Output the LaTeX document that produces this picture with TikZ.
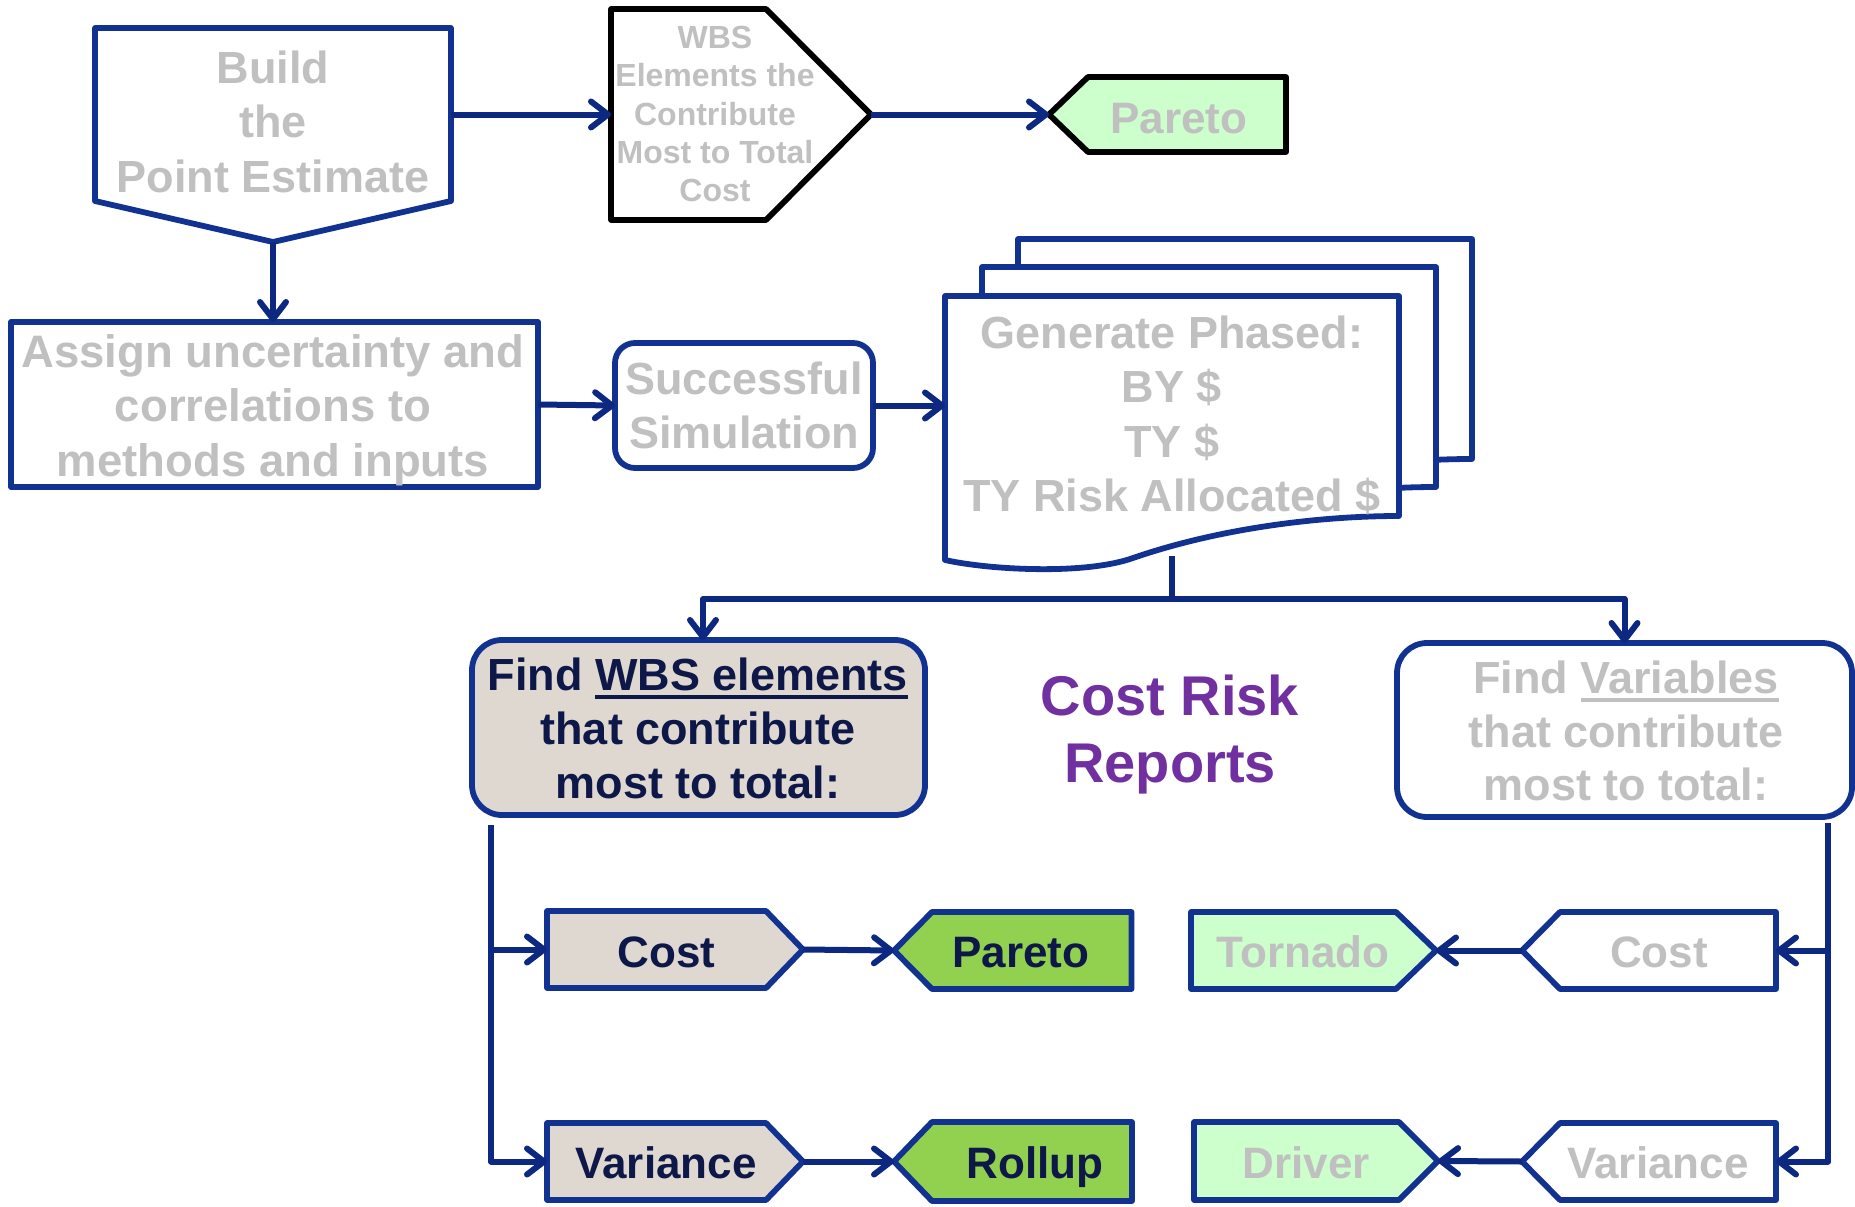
\documentclass[tikz,border=0pt]{standalone}
\usepackage{fontspec}
\setmainfont{Liberation Sans}
\usetikzlibrary{arrows.meta}

\definecolor{navy}{RGB}{18,50,145}
\definecolor{linknavy}{RGB}{12,40,128}
\definecolor{tgray}{RGB}{192,192,192}
\definecolor{tdark}{RGB}{14,24,72}
\definecolor{beige}{RGB}{223,216,209}
\definecolor{leafgreen}{RGB}{146,208,80}
\definecolor{mintgreen}{RGB}{204,255,204}
\definecolor{titlepurple}{RGB}{112,48,160}

% fixed first-line height / last-line depth, so a node's centre sits midway between its outer baselines
\newcommand\topln{\rule{0pt}{0.9em}}
\newcommand\botln{\rule[-0.9em]{0pt}{0.9em}}
\newcommand\ulbar[1]{\leavevmode\setbox0\hbox{#1}\rlap{\rule[-9pt]{\wd0}{4.5pt}}\box0}
\newcommand\fs[2]{\fontsize{#1}{#2}\selectfont}

% outlines drawn on the anchors of an invisible frame node
\newcommand\pointR[3]{\path[#3] (#1.north west) -- ([xshift=-#2]#1.north east) -- (#1.east) -- ([xshift=-#2]#1.south east) -- (#1.south west) -- cycle;}
\newcommand\pointL[3]{\path[#3] (#1.west) -- ([xshift=#2]#1.north west) -- (#1.north east) -- (#1.south east) -- ([xshift=#2]#1.south west) -- cycle;}
\newcommand\pointD[3]{\path[#3] (#1.north west) -- (#1.north east) -- ([yshift=#2]#1.south east) -- (#1.south) -- ([yshift=#2]#1.south west) -- cycle;}
% one sheet of the document stack
\newcommand\docsheet[2]{\path[shp, shift={(#1,#2)}] (945,296) -- (1399,296) -- (1399,516) .. controls (1320,516) and (1220,528) .. (1133,558) .. controls (1085,575) and (990,570) .. (945,560) -- cycle;}

\tikzset{
  frame/.style={inner sep=0pt, outer sep=0pt, draw=none},
  box/.style={draw=navy, line width=5.8pt, fill=white, inner sep=0pt, outer sep=0pt},
  shp/.style={draw=navy, line width=5.8pt, fill=white},
  txt/.style={inner sep=0pt, outer sep=0pt, align=center},
  conn/.style={draw=linknavy, line width=6pt, line join=round,
    -{Straight Barb[length=17pt,width=26pt,round]}},
}

\begin{document}
\begin{tikzpicture}[x=1pt, y=-1pt, line join=round]
\useasboundingbox (0,0) rectangle (1855,1207);

% ---------- frames and boxes ----------
\node[frame, minimum width=356pt, minimum height=214pt] (build) at (273,135) {};
\node[frame, minimum width=260pt, minimum height=211pt] (wbs) at (741,114.5) {};
\node[frame, minimum width=237pt, minimum height=75pt] (ptop) at (1167.5,114.5) {};
\node[box, minimum width=527pt, minimum height=165pt] (assign) at (274.5,404.5) {};
\node[box, rounded corners=20pt, minimum width=258pt, minimum height=125pt] (succ) at (744,405.5) {};
\node[frame, minimum width=454pt, minimum height=256pt] (doc) at (1172,424) {};
\node[box, fill=beige, rounded corners=30pt, minimum width=453pt, minimum height=175pt] (findwbs) at (698.5,727.5) {};
\node[box, rounded corners=30pt, minimum width=455pt, minimum height=174pt] (findvar) at (1624.5,730) {};

\node[frame, minimum width=256pt, minimum height=77pt] (cost1) at (675,949.5) {};
\node[frame, minimum width=237.5pt, minimum height=77pt] (pareto1) at (1012.75,950.5) {};
\node[frame, minimum width=256pt, minimum height=77pt] (var1) at (675,1161.5) {};
\node[frame, minimum width=238pt, minimum height=79pt] (rollup) at (1013,1161.5) {};
\node[frame, minimum width=245pt, minimum height=77pt] (tornado) at (1313.5,950.5) {};
\node[frame, minimum width=254pt, minimum height=77pt] (cost2) at (1649,950.5) {};
\node[frame, minimum width=244pt, minimum height=78pt] (driver) at (1316,1161) {};
\node[frame, minimum width=254pt, minimum height=77pt] (var2) at (1649,1161.5) {};

% ---------- outlines ----------
\pointD{build}{41pt}{shp}
\pointR{wbs}{105pt}{shp, draw=black}
\pointL{ptop}{39pt}{shp, draw=black, fill=mintgreen}
\docsheet{73}{-57}
\docsheet{37}{-29}
\docsheet{0}{0}
\pointR{cost1}{37pt}{shp, fill=beige}
\pointL{pareto1}{38pt}{shp, fill=leafgreen}
\pointR{var1}{37pt}{shp, fill=beige}
\pointL{rollup}{38pt}{shp, fill=leafgreen}
\pointR{tornado}{40pt}{shp, fill=mintgreen}
\pointL{cost2}{38pt}{shp}
\pointR{driver}{39pt}{shp, fill=mintgreen}
\pointL{var2}{38pt}{shp}

% ---------- texts ----------
\node[txt, text=tgray, font=\bfseries\fs{45}{54.5}] (build-t) at (273,137.5) {\topln Build\\the\\Point Estimate\botln};
\node[txt, text=tgray, font=\bfseries\fs{32}{38.4}] (wbs-t) at (715,125) {\topln WBS\\Elements the\\Contribute\\Most to Total\\Cost\botln};
\node[txt, anchor=base, text=tgray, font=\bfseries\fs{44}{50}] (ptop-t) at (1179,133) {Pareto};
\node[txt, text=tgray, font=\bfseries\fs{45.5}{54.8}] (assign-t) at (273,421.9) {\topln Assign uncertainty and\\correlations to\\methods and inputs\botln};
\node[txt, text=tgray, font=\bfseries\fs{45}{54.3}] (succ-t) at (744,421.2) {\topln Successful\\Simulation\botln};
\node[txt, text=tgray, font=\bfseries\fs{45}{54.5}] (doc-t) at (1172,430) {\topln Generate Phased:\\BY \$\\TY \$\\TY Risk Allocated \$\botln};
\node[txt, text=tdark, font=\bfseries\fs{45}{54}] (findwbs-t) at (698,744) {\topln Find \ulbar{WBS elements}\\that contribute\\most to total:\botln};
\node[txt, text=titlepurple, font=\bfseries\fs{56}{67}] (title) at (1170,748.5) {\topln Cost Risk\\Reports\botln};
\node[txt, text=tgray, font=\bfseries\fs{45}{53.7}] (findvar-t) at (1626,747) {\topln Find \ulbar{Variables}\\that contribute\\most to total:\botln};

\node[txt, anchor=base, text=tdark, font=\bfseries\fs{44}{50}] (cost1-t) at (666.5,967) {Cost};
\node[txt, anchor=base, text=tdark, font=\bfseries\fs{44}{50}] (pareto1-t) at (1021,967) {Pareto};
\node[txt, anchor=base, text=tdark, font=\bfseries\fs{44}{50}] (var1-t) at (666,1178) {Variance};
\node[txt, anchor=base, text=tdark, font=\bfseries\fs{44}{50}] (rollup-t) at (1035,1178) {Rollup};
\node[txt, anchor=base, text=tgray, font=\bfseries\fs{44}{50}] (tornado-t) at (1303,967) {Tornado};
\node[txt, anchor=base, text=tgray, font=\bfseries\fs{44}{50}] (cost2-t) at (1659,967) {Cost};
\node[txt, anchor=base, text=tgray, font=\bfseries\fs{44}{50}] (driver-t) at (1306,1178) {Driver};
\node[txt, anchor=base, text=tgray, font=\bfseries\fs{44}{50}] (var2-t) at (1658,1178) {Variance};

% ---------- connectors ----------
\draw[conn] (wbs.west -| build.east) -- (wbs.west);
\draw[conn] (wbs.east) -- (ptop.west);
\draw[conn] (build.south) -- (build.south |- assign.north);
\draw[conn] (assign.east) -- (succ.west);
\draw[conn] (succ.east) -- (succ.east -| doc.west);
\coordinate (split) at (1172,599);
\draw[conn] ([yshift=-4pt]doc.south) -- (split) -| ([xshift=4.5pt]findwbs.north);
\draw[conn] (split) -| (findvar.north);
\coordinate (wbsdrop) at (491,825);
\draw[conn] (wbsdrop) |- (cost1.west);
\draw[conn] (wbsdrop) |- (var1.west);
\draw[conn] (cost1.east) -- (pareto1.west);
\draw[conn] (var1.east) -- (rollup.west);
\coordinate (vardrop) at (1828,823);
\draw[conn] (vardrop) |- (cost2.east);
\draw[conn] (vardrop) |- (var2.east);
\draw[conn] (cost2.west) -- (tornado.east);
\draw[conn] (var2.west) -- (driver.east);
\end{tikzpicture}
\end{document}
